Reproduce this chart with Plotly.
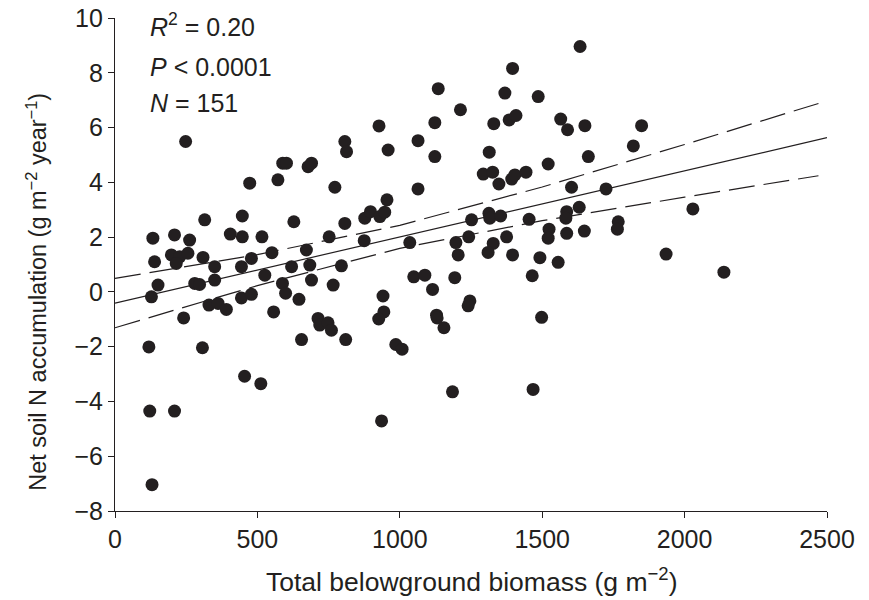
import plotly.graph_objects as go

# Scatter data
biomass = [248, 473, 572, 589, 602, 678, 690, 772, 807, 813,
           315, 447, 133, 209, 262, 405, 447, 516, 628, 752,
           807, 139, 198, 227, 256, 215, 309, 350, 444, 479,
           551, 672, 620, 684, 795, 350, 151, 128, 280, 297,
           526, 588, 599, 690, 766, 646, 330, 362, 391, 444,
           479, 557, 241, 713, 719, 748, 760, 810, 655, 119,
           307, 455, 512, 122, 209, 130, 927, 959, 1064, 1064,
           1123, 1123, 1135, 1213, 1330, 1314, 1384, 1408, 1369, 1396,
           1486, 1633, 1565, 1589, 1650, 1662, 1521, 1293, 1326, 1348,
           1393, 1404, 1443, 1603, 955, 877, 897, 930, 947, 875,
           1035, 1252, 1313, 1316, 1354, 1454, 1586, 1583, 1630, 1648,
           1586, 1524, 1521, 1375, 1242, 1197, 1205, 1328, 1310, 1396,
           1492, 1556, 1049, 1088, 1193, 1465, 941, 1115, 1246, 1240,
           944, 926, 1129, 1131, 1155, 1498, 986, 1008, 1185, 1468,
           936, 1849, 1820, 1724, 2029, 1767, 1764, 1935, 2138]
n_accum = [5.49, 3.97, 4.09, 4.70, 4.70, 4.57, 4.70, 3.82, 5.49, 5.12,
           2.63, 2.77, 1.96, 2.08, 1.89, 2.11, 2.01, 2.01, 2.56, 2.01,
           2.50, 1.10, 1.35, 1.28, 1.41, 1.04, 1.26, 0.92, 0.92, 1.22,
           1.43, 1.53, 0.92, 0.98, 0.95, 0.43, 0.25, -0.18, 0.31, 0.27,
           0.61, 0.31, -0.05, 0.43, 0.25, -0.27, -0.48, -0.42, -0.64, -0.22,
           -0.09, -0.73, -0.95, -0.97, -1.21, -1.13, -1.40, -1.74, -1.74, -2.01,
           -2.04, -3.08, -3.35, -4.35, -4.35, -7.04, 6.06, 5.18, 5.52, 3.76,
           6.18, 4.94, 7.42, 6.65, 6.14, 5.10, 6.28, 6.44, 7.26, 8.16,
           7.13, 8.96, 6.31, 5.92, 6.07, 4.94, 4.67, 4.30, 4.37, 3.94,
           4.12, 4.27, 4.37, 3.82, 3.36, 2.69, 2.93, 2.75, 2.91, 1.87,
           1.80, 2.63, 2.87, 2.69, 2.77, 2.65, 2.93, 2.69, 3.09, 2.22,
           2.14, 2.29, 1.96, 2.01, 2.01, 1.80, 1.35, 1.77, 1.44, 1.35,
           1.25, 1.08, 0.55, 0.61, 0.52, 0.59, -0.15, 0.09, -0.33, -0.51,
           -0.73, -0.99, -0.85, -0.95, -1.31, -0.93, -1.92, -2.09, -3.65, -3.56,
           -4.71, 6.07, 5.33, 3.76, 3.03, 2.56, 2.29, 1.38, 0.72]

# Regression line and confidence limits
fit_x = [0, 2500]
fit_y = [-0.41, 5.63]
band_x = [0, 500, 1000, 1500, 2000, 2470]
band_upper = [0.49, 1.36, 2.43, 3.83, 5.38, 6.88]
band_lower = [-1.31, 0.23, 1.59, 2.60, 3.46, 4.24]

x_ticks = [0, 500, 1000, 1500, 2000, 2500]
y_ticks = [-8, -6, -4, -2, 0, 2, 4, 6, 8, 10]

FONT = "Liberation Sans, Arial, sans-serif"
INK = "#231f20"
FS = 25

fig = go.Figure()
fig.add_trace(go.Scatter(x=band_x, y=band_upper, mode="lines",
                         line=dict(color=INK, width=1.2, dash="26px,9px"),
                         hoverinfo="skip"))
fig.add_trace(go.Scatter(x=band_x, y=band_lower, mode="lines",
                         line=dict(color=INK, width=1.2, dash="26px,9px"),
                         hoverinfo="skip"))
fig.add_trace(go.Scatter(x=fit_x, y=fit_y, mode="lines",
                         line=dict(color=INK, width=1.2), hoverinfo="skip"))
fig.add_trace(go.Scatter(x=biomass, y=n_accum, mode="markers",
                         marker=dict(size=13, color=INK, line=dict(width=0))))

fig.update_layout(
    width=869, height=600,
    margin=dict(l=115, r=42, t=18, b=89, autoexpand=False),
    paper_bgcolor="white", plot_bgcolor="white",
    showlegend=False,
    font=dict(family=FONT, size=FS, color=INK),
    xaxis=dict(range=[0, 2500], tickvals=x_ticks, showline=True,
               linecolor=INK, linewidth=1.2, ticks="outside", ticklen=6,
               tickcolor=INK, showgrid=False, zeroline=False, automargin=False,
               ticklabeloverflow="allow", tickfont=dict(size=FS)),
    yaxis=dict(range=[-8, 10], tickvals=y_ticks, showline=True,
               linecolor=INK, linewidth=1.2, ticks="outside", ticklen=6,
               tickcolor=INK, showgrid=False, zeroline=False, automargin=False,
               ticklabeloverflow="allow", tickfont=dict(size=FS)),
)

# Axis titles
fig.add_annotation(text="Total belowground biomass (g m<sup>−2</sup>)",
                   xref="paper", yref="paper", x=0.501, y=-0.14,
                   xanchor="center", yanchor="middle", showarrow=False,
                   font=dict(size=26.5, color=INK))
fig.add_annotation(text="Net soil N accumulation (g m<sup>−2</sup> year<sup>−1</sup>)",
                   xref="paper", yref="paper", x=-0.11, y=0.444,
                   xanchor="center", yanchor="middle", showarrow=False,
                   textangle=-90, font=dict(size=23.5, color=INK))

stats = ["<i>R</i><sup>2</sup> = 0.20", "<i>P</i> < 0.0001", "<i>N</i> = 151"]
stat_y = [0.985, 0.90, 0.827]
for s, yy in zip(stats, stat_y):
    fig.add_annotation(text=s, xref="paper", yref="paper", x=0.047,
                       y=yy, xanchor="left", yanchor="middle",
                       showarrow=False, font=dict(size=FS, color=INK))

fig.write_html("out.html",
               config={"displayModeBar": False},
               post_script="document.body.style.margin='0';")
